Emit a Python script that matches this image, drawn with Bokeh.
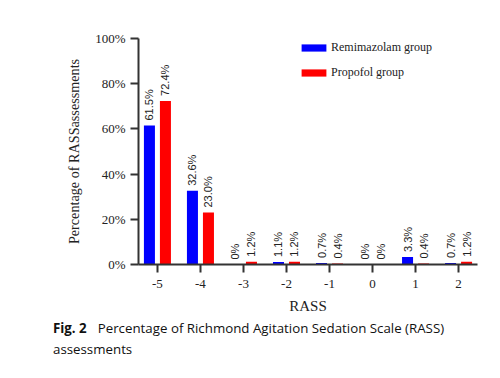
import math
from bokeh.plotting import figure
from bokeh.layouts import column
from bokeh.models import ColumnDataSource, FixedTicker, PrintfTickFormatter, Range1d, Div
from bokeh.transform import dodge
from bokeh.core.properties import value
from bokeh.embed import file_html
from bokeh.resources import INLINE

categories = ["-5", "-4", "-3", "-2", "-1", "0", "1", "2"]
remimazolam = [61.5, 32.6, 0.0, 1.1, 0.7, 0.0, 3.3, 0.7]
propofol = [72.4, 23.0, 1.2, 1.2, 0.4, 0.0, 0.4, 1.2]
y_ticks = [0, 20, 40, 60, 80, 100]
series_names = ["Remimazolam group", "Propofol group"]
caption_bold = "Fig. 2"
caption_line1 = "Percentage of Richmond Agitation Sedation Scale (RASS)"
caption_line2 = "assessments"


def fmt(v):
    return "0%" if v == 0 else f"{v:.1f}%"


idx = list(range(len(categories)))
src = ColumnDataSource(dict(
    x=idx,
    rem=remimazolam,
    pro=propofol,
    rem_lbl=[fmt(v) for v in remimazolam],
    pro_lbl=[fmt(v) for v in propofol],
))

p = figure(width=500, height=318, output_backend="svg", toolbar_location=None,
           x_range=Range1d(-0.44, 7.44), y_range=Range1d(0, 100),
           min_border_left=138, min_border_right=23, min_border_top=38,
           min_border_bottom=54)
p.outline_line_color = None
p.grid.visible = False
p.background_fill_color = "white"

off = 0.186
bw = 0.256
p.vbar(x=dodge("x", -off, range=p.x_range), top="rem", width=bw, source=src,
       fill_color="#0000FF", line_color=None, legend_label=series_names[0])
p.vbar(x=dodge("x", off, range=p.x_range), top="pro", width=bw, source=src,
       fill_color="#FF0000", line_color=None, legend_label=series_names[1])

for key, lbl, dx in (("rem", "rem_lbl", -off), ("pro", "pro_lbl", off)):
    p.text(x=dodge("x", dx, range=p.x_range), y=key, text=lbl, source=src,
           angle=math.pi / 2, text_align="left", text_baseline="middle",
           y_offset=-5, text_font=value("Liberation Sans"),
           text_font_size="11px", text_color="#222222")

axis_color = "#333333"
for ax in (p.xaxis[0], p.yaxis[0]):
    ax.axis_line_color = axis_color
    ax.axis_line_width = 2
    ax.major_tick_line_color = axis_color
    ax.major_tick_line_width = 2
    ax.major_tick_out = 8
    ax.major_tick_in = 0
    ax.minor_tick_line_color = None
    ax.major_label_text_font = "Liberation Serif"
    ax.major_label_text_font_size = "13px"
    ax.major_label_text_color = "#222222"
    ax.axis_label_text_font = "Liberation Serif"
    ax.axis_label_text_font_size = "15px"
    ax.axis_label_text_font_style = "normal"
    ax.axis_label_text_color = "#222222"

p.xaxis.ticker = FixedTicker(ticks=idx)
p.xaxis.major_label_overrides = {i: c for i, c in enumerate(categories)}
p.xaxis.major_label_standoff = 7
p.xaxis.axis_label = "RASS"
p.xaxis.axis_label_standoff = 7

p.yaxis.ticker = FixedTicker(ticks=y_ticks)
p.yaxis.formatter = PrintfTickFormatter(format="%d%%")
p.yaxis.major_label_standoff = 5
p.yaxis.axis_label = "Percentage of RASSassessments"
p.yaxis.axis_label_text_font_size = "14.2px"
p.yaxis.axis_label_standoff = 10

lg = p.legend[0]
lg.location = (160, 182)
lg.glyph_width = 31
lg.glyph_height = 9
lg.label_height = 20
lg.spacing = 5
lg.padding = 0
lg.margin = 0
lg.border_line_alpha = 0
lg.background_fill_alpha = 0
lg.label_standoff = 2
lg.label_text_font = "Liberation Serif"
lg.label_text_font_size = "12px"
lg.label_text_color = "#222222"

cap = Div(
    text=(f"<div style='white-space:nowrap'><b>{caption_bold}</b>"
          f"<span style='margin-left:11px'>{caption_line1}</span></div>"
          f"<div>{caption_line2}</div>"),
    width=440, height=60, margin=(0, 0, 0, 53),
    styles={"font-family": "'Open Sans'", "font-size": "13.3px",
            "line-height": "21px", "color": "#111111"},
)

layout = column(p, cap, spacing=0)
open("out.html", "w").write(file_html(layout, INLINE))
